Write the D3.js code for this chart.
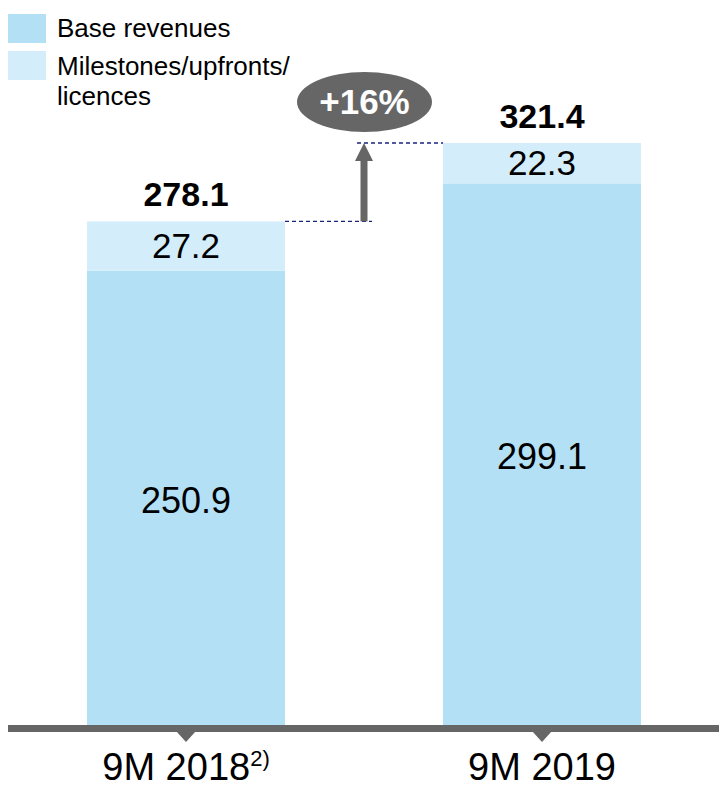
<!DOCTYPE html>
<html>
<head>
<meta charset="utf-8">
<script src="https://cdn.jsdelivr.net/npm/d3@7/dist/d3.min.js"></script>
<style>
  html, body { margin: 0; padding: 0; background: #fff; }
  svg { display: block; font-family: "Liberation Sans", Arial, sans-serif; }
</style>
</head>
<body>
<svg id="chart" width="719" height="788"></svg>
<script>
const categories = ["9M 2018", "9M 2019"];
const categoryNotes = ["2)", ""];
const baseRevenues = [250.9, 299.1];
const milestones = [27.2, 22.3];
const totals = [278.1, 321.4];
const growthLabel = "+16%";
const seriesNames = ["Base revenues", "Milestones/upfronts/", "licences"];

const colors = { base: "#b3e0f5", mile: "#d4edfa", axis: "#666666", dash: "#1a2380" };

const svg = d3.select("#chart");
const baseY = 725;

const x = d3.scaleBand().domain(categories).range([8, 720])
  .paddingInner(1 - 198 / 356).paddingOuter(79 / 356);
const y = d3.scaleLinear().domain([0, totals[1]]).range([baseY, 143]);

const data = categories.map((c, i) => ({ c, base: baseRevenues[i], mile: milestones[i], total: totals[i], note: categoryNotes[i] }));

// bars
const g = svg.append("g");
g.selectAll("rect.base").data(data).join("rect")
  .attr("x", d => x(d.c)).attr("width", x.bandwidth())
  .attr("y", d => y(d.base)).attr("height", d => y(0) - y(d.base))
  .attr("fill", colors.base);
g.selectAll("rect.mile").data(data).join("rect")
  .attr("x", d => x(d.c)).attr("width", x.bandwidth())
  .attr("y", d => y(d.base + d.mile)).attr("height", d => y(d.base) - y(d.base + d.mile))
  .attr("fill", colors.mile);

const cx = d => x(d.c) + x.bandwidth() / 2;

// value labels
g.selectAll("text.base").data(data).join("text")
  .attr("x", cx).attr("y", d => (y(d.base) + y(0)) / 2 + 15)
  .attr("text-anchor", "middle").attr("font-size", 36).attr("fill", "#000")
  .text(d => d.base.toFixed(1));
g.selectAll("text.mile").data(data).join("text")
  .attr("x", cx).attr("y", d => (y(d.base) + y(d.base + d.mile)) / 2 + 12)
  .attr("text-anchor", "middle").attr("font-size", 35).attr("fill", "#000")
  .text(d => d.mile.toFixed(1));
g.selectAll("text.total").data(data).join("text")
  .attr("x", cx).attr("y", d => y(d.total) - 15)
  .attr("text-anchor", "middle").attr("font-size", 34).attr("font-weight", "bold").attr("fill", "#000")
  .text(d => d.total.toFixed(1));

// axis
svg.append("rect").attr("x", 8).attr("y", baseY).attr("width", 711).attr("height", 7).attr("fill", colors.axis);
svg.selectAll("path.tick").data(data).join("path")
  .attr("d", d => `M${cx(d) - 10},${baseY + 6} L${cx(d) + 10},${baseY + 6} L${cx(d)},${baseY + 17} Z`)
  .attr("fill", colors.axis);
const lbl = svg.selectAll("text.cat").data(data).join("text")
  .attr("x", cx).attr("y", 780).attr("text-anchor", "middle")
  .attr("font-size", 38).attr("fill", "#000");
lbl.append("tspan").text(d => d.c);
lbl.filter(d => d.note).append("tspan").attr("font-size", 22).attr("dy", -14).text(d => d.note);

// growth arrow + dashed guides
const x1r = x(categories[0]) + x.bandwidth();
const x2l = x(categories[1]);
const ax = 364;
svg.append("line").attr("x1", x1r).attr("x2", 372).attr("y1", y(totals[0])).attr("y2", y(totals[0]))
  .attr("stroke", colors.dash).attr("stroke-width", 1.3).attr("stroke-dasharray", "4,3");
svg.append("line").attr("x1", 357).attr("x2", x2l).attr("y1", y(totals[1])).attr("y2", y(totals[1]))
  .attr("stroke", colors.dash).attr("stroke-width", 1.3).attr("stroke-dasharray", "4,3");
svg.append("rect").attr("x", ax - 3.5).attr("y", y(totals[1]) + 16).attr("width", 7)
  .attr("height", y(totals[0]) - y(totals[1]) - 16).attr("fill", colors.axis);
svg.append("path")
  .attr("d", `M${ax - 9},${y(totals[1]) + 18} L${ax + 9},${y(totals[1]) + 18} L${ax},${y(totals[1])} Z`)
  .attr("fill", colors.axis);
svg.append("ellipse").attr("cx", 364.5).attr("cy", 102).attr("rx", 67.5).attr("ry", 30).attr("fill", colors.axis);
svg.append("text").attr("x", 364.5).attr("y", 114).attr("text-anchor", "middle")
  .attr("font-size", 35).attr("font-weight", "bold").attr("fill", "#fff").text(growthLabel);

// legend
svg.append("rect").attr("x", 8).attr("y", 14).attr("width", 38).attr("height", 29).attr("fill", colors.base);
svg.append("rect").attr("x", 8).attr("y", 51).attr("width", 38).attr("height", 29).attr("fill", colors.mile);
svg.append("text").attr("x", 57).attr("y", 37).attr("font-size", 26).text(seriesNames[0]);
svg.append("text").attr("x", 57).attr("y", 75).attr("font-size", 26).text(seriesNames[1]);
svg.append("text").attr("x", 57).attr("y", 105).attr("font-size", 26).text(seriesNames[2]);
</script>
</body>
</html>
